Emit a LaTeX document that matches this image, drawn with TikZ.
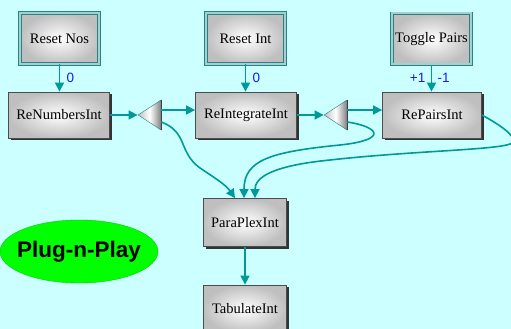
\documentclass[tikz,border=0pt]{standalone}
\usepackage{fontspec}
\setmainfont{Liberation Serif}
\setsansfont{Liberation Sans}
\usepackage{tikz}
\usetikzlibrary{arrows.meta,shapes.geometric,shadows}
\definecolor{bgcyan}{RGB}{204,255,255}
\definecolor{linkteal}{RGB}{0,153,153}
\definecolor{rimteal}{RGB}{51,153,153}
\definecolor{lblblue}{RGB}{25,25,255}
\definecolor{plugreen}{RGB}{0,255,0}

\begin{document}
\begin{tikzpicture}[x=1pt,y=-1pt,
  procbox/.style={draw=black!70, line width=0.8pt, inner color=white, outer color=black!25, inner sep=2pt, minimum width=101pt, minimum height=46pt, font=\fontsize{14.5}{16}\selectfont, drop shadow={shadow xshift=2pt, shadow yshift=-2pt, fill=black!80, opacity=1}},
  ctrlbox/.style={procbox, draw=rimteal!85!black, double=rimteal!45!white, double distance=2pt, line width=0.9pt, minimum width=79pt, minimum height=51pt},
  splitter/.style={isosceles triangle, isosceles triangle stretches, shape border rotate=180, minimum width=30pt, minimum height=23pt, inner sep=0pt, draw=rimteal!80!black, left color=black!25, right color=black!50, middle color=white},
  link/.style={draw=linkteal, line width=1.6pt, -{Triangle[length=9pt,width=9pt]}},
  lbl/.style={text=lblblue, font=\sffamily\fontsize{13.5}{14}\selectfont}]
  \useasboundingbox[fill=bgcyan] (0,0) rectangle (511,329);
  \node[ctrlbox] (rnos) at (59.5,38.5) {Reset Nos}; \node[ctrlbox] (rint) at (245.5,38.5) {Reset Int}; \node[ctrlbox] (tgl) at (431.5,39) {Toggle Pairs};
  \node[procbox] (renum) at (59,115) {ReNumbersInt}; \node[procbox] (reint) at (246,115) {ReIntegrateInt}; \node[procbox, minimum width=99pt] (repair) at (432,115) {RePairsInt};
  \node[procbox, minimum width=83pt, minimum height=48pt] (plex) at (245,222.5) {ParaPlexInt}; \node[procbox, minimum width=83pt, minimum height=48pt] (tab) at (245,309) {TabulateInt};
  \node[splitter] (sp1) at (153,115) {}; \node[splitter] (sp2) at (339,115) {};
  \draw[black!75, line width=1.3pt] (sp1.left corner) -- (sp1.right corner); \draw[black!75, line width=1.3pt] (sp2.left corner) -- (sp2.right corner);
  \node[ellipse, draw=plugreen!80!black, line width=0.4pt, fill=plugreen, minimum width=158pt, minimum height=63pt, inner xsep=-8pt, inner ysep=0pt, font=\sffamily\bfseries\fontsize{22.5}{24}\selectfont] (plug) at (79,251.5) {Plug-n-Play};
  \draw[link] (rnos.south) -- (rnos.south |- renum.north) node[lbl, midway, right=3pt] (z1) {0};
  \draw[link] (rint.south) -- (rint.south |- reint.north) node[lbl, midway, right=3pt] (z2) {0};
  \draw[link] (tgl.south) -- (tgl.south |- repair.north) node[lbl, midway, left=2pt] (plus) {+1} node[lbl, midway, right=2pt] (minus) {-1};
  \draw[link] (renum.east) -- (sp1.apex); \draw[link] ([yshift=5pt]sp1.east) -- ([yshift=5pt]reint.west);
  \draw[link] (reint.east) -- (sp2.apex); \draw[link] ([yshift=5pt]sp2.east) -- ([yshift=5pt]repair.west);
  \draw[link] ([yshift=-7pt]sp1.east) .. controls (188,132) and (178,152) .. (200,168) .. controls (215,178) and (226,185) .. ([xshift=-10pt]plex.north);
  \draw[link] ([yshift=-7pt]sp2.east) .. controls (380,127) and (388,140) .. (340,145) .. controls (270,152) and (244,160) .. ([xshift=-1pt]plex.north);
  \draw[link] (repair.east) .. controls (500,125) and (515,135) .. (513,142) .. controls (510,150) and (420,150) .. (330,160) .. controls (270,166) and (255,178) .. ([xshift=10pt]plex.north);
  \draw[link] (plex) -- (tab);
\end{tikzpicture}
\end{document}
